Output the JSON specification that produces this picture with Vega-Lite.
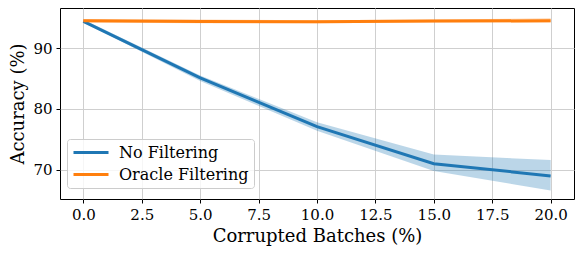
{
  "$schema": "https://vega.github.io/schema/vega-lite/v6.json",
  "width": 514,
  "height": 191,
  "autosize": "none",
  "padding": {"left": 60, "top": 8, "right": 8, "bottom": 55},
  "config": {
    "font": "DejaVu Serif",
    "view": {"stroke": "#000000", "strokeWidth": 1},
    "axis": {
      "domain": false,
      "grid": true,
      "gridColor": "#cfcfcf",
      "gridWidth": 1,
      "tickColor": "#000000",
      "tickSize": 4,
      "tickWidth": 1,
      "labelFont": "DejaVu Serif",
      "labelFontSize": 15,
      "labelColor": "#000000",
      "labelPadding": 4,
      "titleFont": "DejaVu Serif",
      "titleFontSize": 18,
      "titleFontWeight": "normal",
      "titleColor": "#000000"
    }
  },
  "data": {
    "values": [
      {"series": "No Filtering", "x": 0, "acc": 94.4, "lo": 94.2, "hi": 94.7},
      {"series": "No Filtering", "x": 5, "acc": 85.1, "lo": 84.6, "hi": 85.5},
      {"series": "No Filtering", "x": 10, "acc": 77.1, "lo": 76.4, "hi": 77.8},
      {"series": "No Filtering", "x": 15, "acc": 71.0, "lo": 69.8, "hi": 72.5},
      {"series": "No Filtering", "x": 20, "acc": 69.0, "lo": 66.6, "hi": 71.6},
      {"series": "Oracle Filtering", "x": 0, "acc": 94.5, "lo": 94.2, "hi": 94.8},
      {"series": "Oracle Filtering", "x": 5, "acc": 94.4, "lo": 94.1, "hi": 94.7},
      {"series": "Oracle Filtering", "x": 10, "acc": 94.35, "lo": 94.1, "hi": 94.6},
      {"series": "Oracle Filtering", "x": 15, "acc": 94.45, "lo": 94.2, "hi": 94.7},
      {"series": "Oracle Filtering", "x": 20, "acc": 94.5, "lo": 94.2, "hi": 94.9}
    ]
  },
  "encoding": {
    "x": {
      "field": "x",
      "type": "quantitative",
      "scale": {"domain": [-1, 21], "nice": false, "zero": false},
      "axis": {
        "values": [0, 2.5, 5, 7.5, 10, 12.5, 15, 17.5, 20],
        "format": ".1f",
        "title": "Corrupted Batches (%)",
        "titlePadding": 5
      }
    }
  },
  "layer": [
    {
      "transform": [{"filter": "datum.series === 'No Filtering'"}],
      "mark": {"type": "area", "opacity": 0.3, "color": "#1f77b4"},
      "encoding": {
        "y": {"field": "lo", "type": "quantitative"},
        "y2": {"field": "hi"}
      }
    },
    {
      "transform": [{"filter": "datum.series === 'Oracle Filtering'"}],
      "mark": {"type": "area", "opacity": 0.3, "color": "#ff7f0e"},
      "encoding": {
        "y": {"field": "lo", "type": "quantitative"},
        "y2": {"field": "hi"}
      }
    },
    {
      "mark": {"type": "line", "strokeWidth": 3},
      "encoding": {
        "y": {
          "field": "acc",
          "type": "quantitative",
          "scale": {"domain": [65.2, 96.6], "nice": false, "zero": false},
          "axis": {"values": [70, 80, 90], "title": "Accuracy (%)", "titlePadding": 5}
        },
        "color": {
          "field": "series",
          "type": "nominal",
          "scale": {"domain": ["No Filtering", "Oracle Filtering"], "range": ["#1f77b4", "#ff7f0e"]},
          "legend": {
            "title": null,
            "orient": "none",
            "legendX": 7,
            "legendY": 131,
            "symbolType": "M-1,0H4",
            "symbolSize": 196,
            "symbolStrokeWidth": 3,
            "labelFont": "DejaVu Serif",
            "labelFontSize": 16,
            "labelColor": "#000000",
            "labelOffset": 30,
            "padding": 5,
            "rowPadding": 5,
            "fillColor": "rgba(255,255,255,0.8)",
            "strokeColor": "#cccccc",
            "cornerRadius": 3
          }
        }
      }
    }
  ]
}
